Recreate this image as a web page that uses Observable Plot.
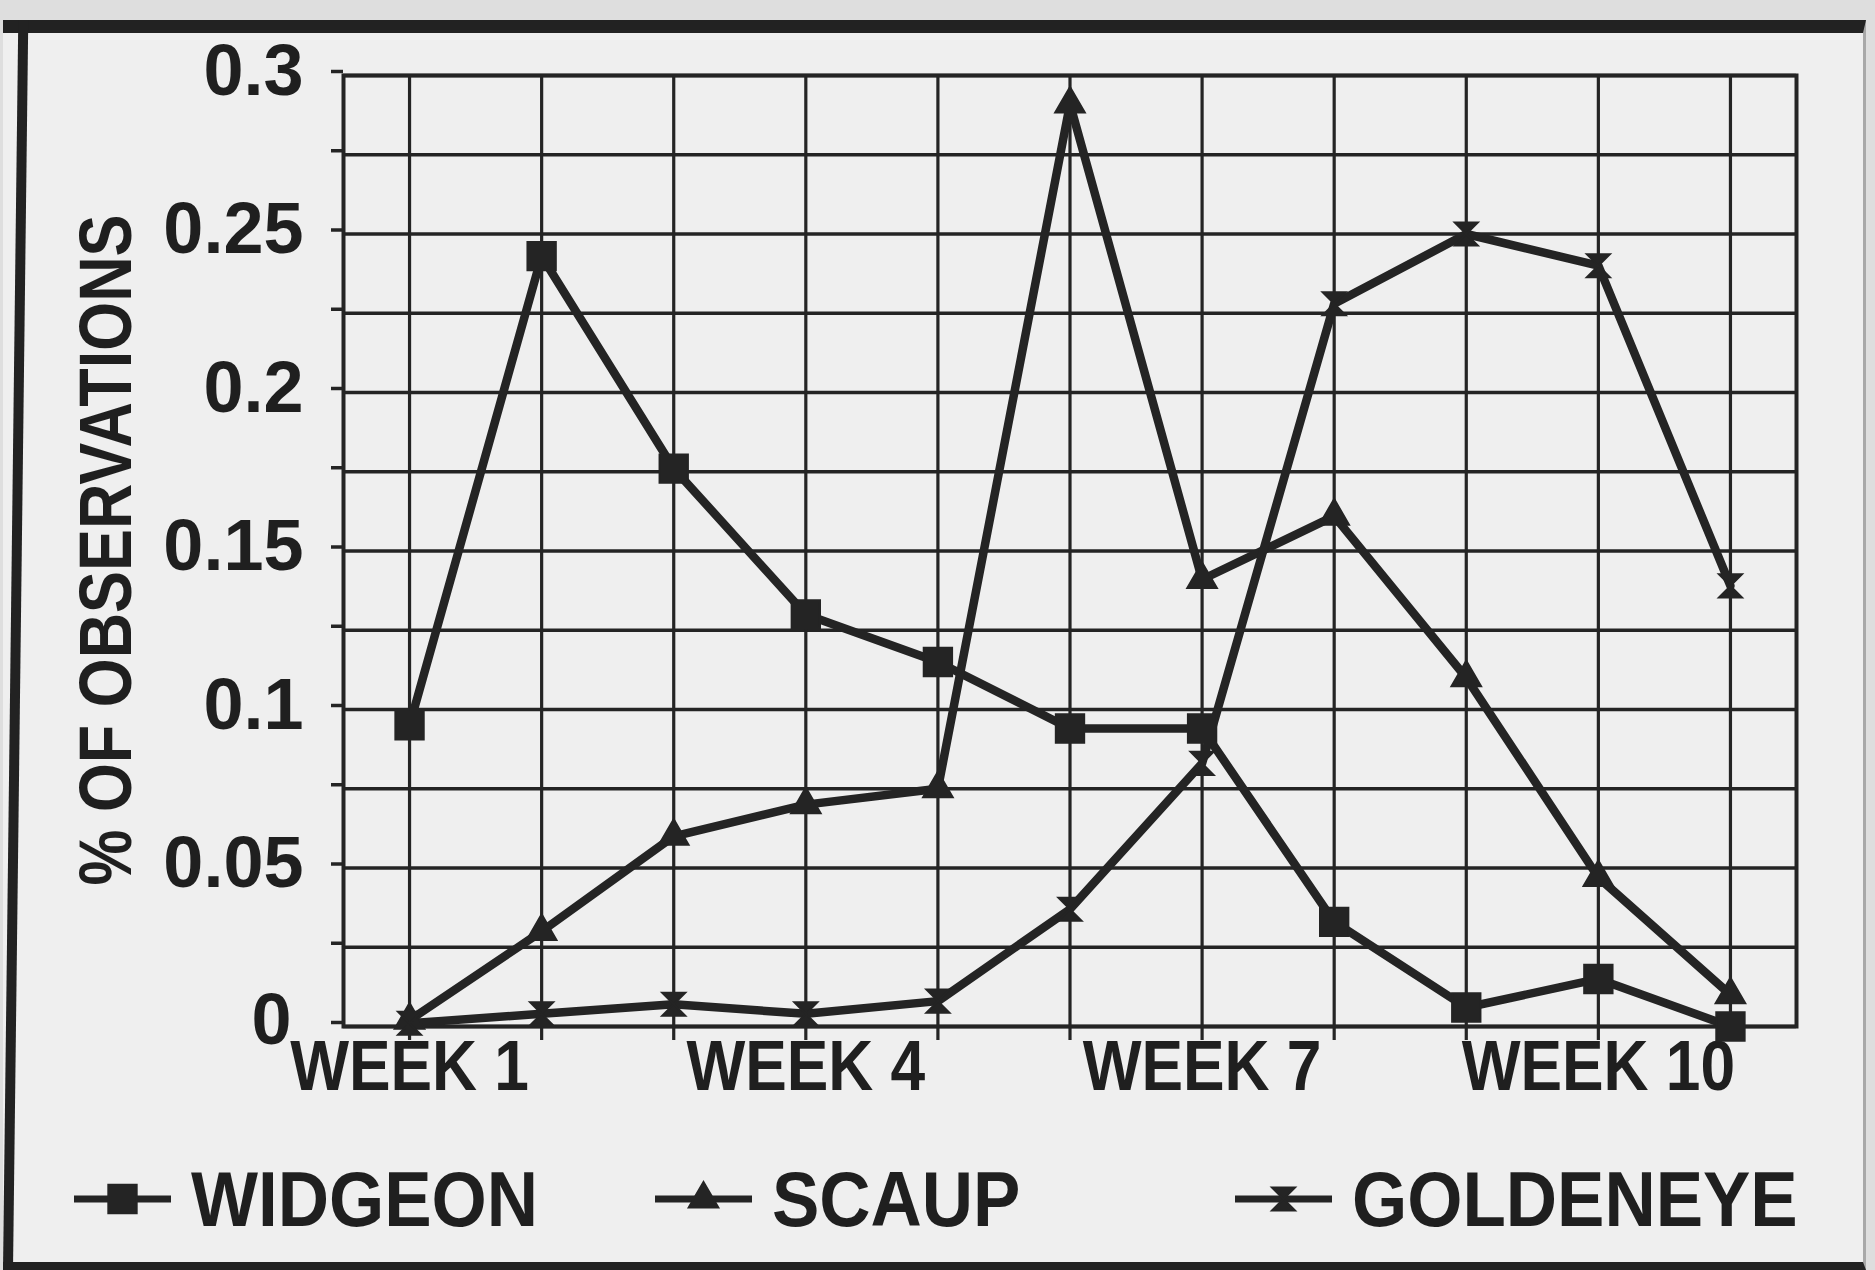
<!DOCTYPE html>
<html>
<head>
<meta charset="utf-8">
<script src="https://cdn.jsdelivr.net/npm/d3@7"></script>
<script src="https://cdn.jsdelivr.net/npm/@observablehq/plot@0.6"></script>
<style>
  html, body { margin: 0; padding: 0; }
  body {
    width: 1875px; height: 1270px; position: relative; overflow: hidden;
    background: #dedede;
    font-family: "Liberation Sans", Arial, Helvetica, sans-serif;
    font-weight: bold; color: #1f1f1f;
  }
  #frame {
    position: absolute; left: 3px; top: 20px; width: 1863px; height: 1250px;
    box-sizing: border-box; background: #efefef;
    border-top: 13px solid #222;
    border-bottom: 8px solid #222; border-right: 3px solid #a8a8a8;
  }
  #leftline {
    position: absolute; left: 3px; top: 20px; width: 10px; height: 1250px;
    background: #222; transform-origin: left bottom; transform: skewX(-0.7deg);
  }
  #chart { position: absolute; left: 0; top: 0; }
  #ytitle {
    position: absolute; left: 106px; top: 550px; white-space: nowrap;
    font-size: 74px; line-height: 1;
    transform: translate(-50%, -50%) rotate(-90deg) scaleX(0.85);
  }
  .legend-item {
    position: absolute; top: 1160px; height: 78px;
    display: flex; align-items: center; white-space: nowrap;
  }
  .legend-item svg { display: block; margin-right: 20px; }
  .legend-item span {
    display: inline-block; font-size: 78px; line-height: 1;
    transform: scaleX(0.91); transform-origin: left center;
  }
</style>
</head>
<body>
<div id="frame"></div>
<div id="leftline"></div>
<div id="chart"></div>
<div id="ytitle"></div>
<div id="legend"></div>
<script>
// ---- data ----
const weeks = [1, 2, 3, 4, 5, 6, 7, 8, 9, 10, 11];
const widgeon   = [0.095, 0.243, 0.176, 0.130, 0.115, 0.094, 0.094, 0.033, 0.006, 0.015, 0.000];
const scaup     = [0.002, 0.030, 0.060, 0.070, 0.075, 0.291, 0.141, 0.161, 0.110, 0.047, 0.010];
const goldeneye = [0.001, 0.004, 0.007, 0.004, 0.008, 0.037, 0.083, 0.228, 0.250, 0.240, 0.139];
const seriesNames = ["WIDGEON", "SCAUP", "GOLDENEYE"];
const xLabelWeeks = [1, 4, 7, 10];
const xTickLabels = ["WEEK 1", "WEEK 4", "WEEK 7", "WEEK 10"];
const yGridValues = [0, 0.025, 0.05, 0.075, 0.1, 0.125, 0.15, 0.175, 0.2, 0.225, 0.25, 0.275, 0.3];
const yLabelValues = [0, 0.05, 0.1, 0.15, 0.2, 0.25, 0.3];
const yTickLabels = ["0", "0.05", "0.1", "0.15", "0.2", "0.25", "0.3"];
const yAxisTitle = "% OF OBSERVATIONS";

// ---- build table ----
const seriesValues = [widgeon, scaup, goldeneye];
const rows = [];
seriesNames.forEach((name, s) => {
  weeks.forEach((w, i) => rows.push({series: name, week: w, value: seriesValues[s][i]}));
});

const ink = "#242424";

// custom "hourglass" marker (Excel-style star as printed)
const hourglass = {
  draw(context, size) {
    const s = Math.sqrt(size) / 2;
    context.moveTo(-s, -s);
    context.lineTo(s, -s);
    context.lineTo(-s, s);
    context.lineTo(s, s);
    context.closePath();
  }
};
const symbolFor = {WIDGEON: "square", SCAUP: "triangle", GOLDENEYE: hourglass};
const rFor = {WIDGEON: 16, SCAUP: 11, GOLDENEYE: 13};

const yFmt = d => {
  const i = yLabelValues.findIndex(v => Math.abs(v - d) < 1e-9);
  return i >= 0 ? yTickLabels[i] : "";
};
const xFmt = d => {
  const i = xLabelWeeks.indexOf(d);
  return i >= 0 ? xTickLabels[i] : "";
};

const plot = Plot.plot({
  width: 1875,
  height: 1110,
  marginLeft: 343,
  marginRight: 79,
  marginTop: 75,
  marginBottom: 84,
  style: {background: "transparent", fontFamily: "Liberation Sans, Arial, sans-serif", fontWeight: "bold", color: "#1f1f1f", overflow: "visible"},
  x: {domain: [0.5, 11.5]},
  y: {domain: [0, 0.3]},
  marks: [
    Plot.gridY(yGridValues, {stroke: ink, strokeOpacity: 1, strokeWidth: 3.5}),
    Plot.gridX(weeks, {stroke: ink, strokeOpacity: 1, strokeWidth: 3.2}),
    Plot.frame({stroke: ink, strokeWidth: 4}),
    Plot.axisY(yGridValues, {tickSize: 12, tickPadding: 28, tickFormat: yFmt, fontSize: 72, label: null, stroke: ink, strokeWidth: 3.5, dy: -4}),
    Plot.axisX(weeks, {tickSize: 14, tickPadding: 0, tickFormat: xFmt, fontSize: 70, label: null, stroke: ink, strokeWidth: 3.2}),
    Plot.line(rows, {x: "week", y: "value", z: "series", stroke: ink, strokeWidth: 8.5, strokeLinejoin: "round"}),
    ...seriesNames.map(name => Plot.dot(rows.filter(d => d.series === name), {
      x: "week", y: "value", symbol: symbolFor[name], r: rFor[name],
      fill: ink, stroke: ink, strokeWidth: 2
    }))
  ]
});
document.getElementById("chart").appendChild(plot);

function appendTransform(t, extra) {
  const tr = t.getAttribute("transform");
  if (tr && /translate/.test(tr)) {
    t.setAttribute("transform", tr + " " + extra);
  } else {
    const x = +t.getAttribute("x") || 0;
    const y = +t.getAttribute("y") || 0;
    t.setAttribute("transform", `translate(${x},${y}) ${extra} translate(${-x},${-y})`);
  }
}
// narrow the x tick labels like the printed condensed type
plot.querySelectorAll('g[aria-label="x-axis tick label"] text').forEach(t => appendTransform(t, "scale(0.89,1)"));
// the printed "0" sits a little left of and below the others
plot.querySelectorAll('g[aria-label="y-axis tick label"] text').forEach(t => {
  if (t.textContent === "0") appendTransform(t, "translate(-12,-2)");
});

// y axis title
document.getElementById("ytitle").textContent = yAxisTitle;

// legend
const legendLefts = [74, 655, 1235];
const legend = document.getElementById("legend");
seriesNames.forEach((name, i) => {
  const item = document.createElement("div");
  item.className = "legend-item";
  item.style.left = legendLefts[i] + "px";
  const svg = d3.create("svg").attr("width", 97).attr("height", 40);
  svg.append("line").attr("x1", 0).attr("x2", 97).attr("y1", 20).attr("y2", 20)
    .attr("stroke", ink).attr("stroke-width", 7);
  const r = rFor[name];
  const type = typeof symbolFor[name] === "string"
    ? (symbolFor[name] === "square" ? d3.symbolSquare : d3.symbolTriangle)
    : symbolFor[name];
  svg.append("path").attr("transform", "translate(48.5,20)")
    .attr("d", d3.symbol(type, Math.PI * r * r)())
    .attr("fill", ink).attr("stroke", ink).attr("stroke-width", 2);
  item.appendChild(svg.node());
  const span = document.createElement("span");
  span.textContent = name;
  item.appendChild(span);
  legend.appendChild(item);
});
</script>
</body>
</html>
